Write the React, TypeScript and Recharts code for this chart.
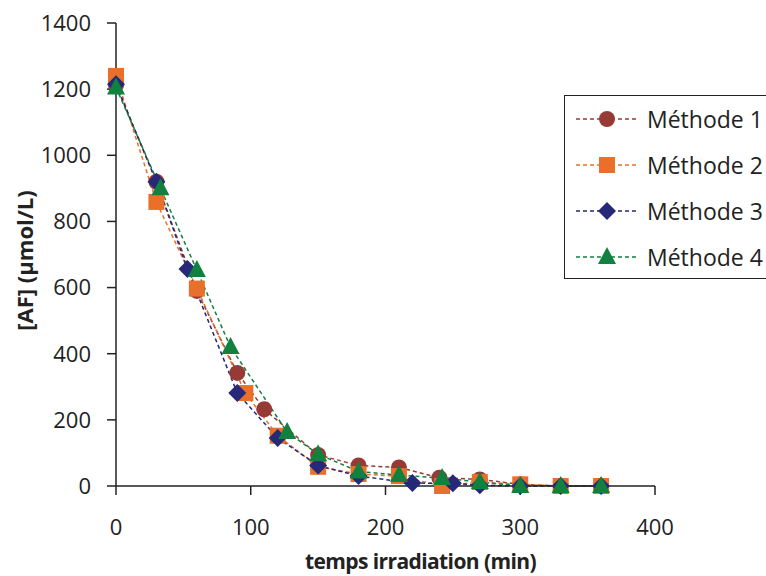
import { LineChart, Line, XAxis, YAxis } from 'recharts'

// Values
const methode1 = [
  { t: 0, af: 1212 }, { t: 30, af: 920 }, { t: 60, af: 590 }, { t: 90, af: 342 },
  { t: 110, af: 232 }, { t: 150, af: 94 }, { t: 180, af: 62 }, { t: 210, af: 56 },
  { t: 240, af: 25 }, { t: 270, af: 20 }, { t: 300, af: 5 }, { t: 330, af: 0 }, { t: 360, af: 0 },
]
const methode2 = [
  { t: 0, af: 1240 }, { t: 30, af: 859 }, { t: 60, af: 597 }, { t: 96, af: 281 },
  { t: 120, af: 152 }, { t: 150, af: 58 }, { t: 180, af: 36 }, { t: 210, af: 30 },
  { t: 242, af: 0 }, { t: 270, af: 12 }, { t: 300, af: 5 }, { t: 330, af: 0 }, { t: 360, af: 0 },
]
const methode3 = [
  { t: 0, af: 1215 }, { t: 30, af: 920 }, { t: 53, af: 656 }, { t: 90, af: 281 },
  { t: 120, af: 145 }, { t: 150, af: 62 }, { t: 180, af: 30 }, { t: 220, af: 9 },
  { t: 250, af: 8 }, { t: 270, af: 2 }, { t: 300, af: 0 }, { t: 330, af: 0 }, { t: 360, af: 0 },
]
const methode4 = [
  { t: 0, af: 1205 }, { t: 33, af: 900 }, { t: 60, af: 653 }, { t: 85, af: 420 },
  { t: 127, af: 163 }, { t: 150, af: 96 }, { t: 180, af: 44 }, { t: 210, af: 33 },
  { t: 242, af: 24 }, { t: 270, af: 12 }, { t: 300, af: 0 }, { t: 330, af: 0 }, { t: 360, af: 0 },
]

const xTicks = [0, 100, 200, 300, 400]
const yTicks = [0, 200, 400, 600, 800, 1000, 1200, 1400]

const series = [
  { name: 'Méthode 1', data: methode1, color: '#973a36', shape: 'circle' },
  { name: 'Méthode 2', data: methode2, color: '#e8702a', shape: 'square' },
  { name: 'Méthode 3', data: methode3, color: '#262878', shape: 'diamond' },
  { name: 'Méthode 4', data: methode4, color: '#12803e', shape: 'triangle' },
]

const font = '"Open Sans", sans-serif'

function Marker({ cx, cy, shape, color }: any) {
  if (cx == null || cy == null) return null
  if (shape === 'circle') return <circle cx={cx} cy={cy} r={8} fill={color} />
  if (shape === 'square') return <rect x={cx - 8} y={cy - 8} width={16} height={16} fill={color} />
  if (shape === 'diamond')
    return <polygon points={`${cx},${cy - 9} ${cx + 9},${cy} ${cx},${cy + 9} ${cx - 9},${cy}`} fill={color} />
  return <polygon points={`${cx},${cy - 10} ${cx + 9},${cy + 7} ${cx - 9},${cy + 7}`} fill={color} />
}

function LegendBox() {
  return (
    <div
      style={{
        position: 'absolute',
        left: 564,
        top: 95,
        border: '1.5px solid #222',
        background: '#fff',
        width: 220,
        height: 184,
        boxSizing: 'border-box',
      }}
    >
      {series.map((s) => (
        <div key={s.name} style={{ display: 'flex', alignItems: 'center', height: 46 }}>
          <svg width={82} height={24}>
            <line x1={11} y1={12} x2={73} y2={12} stroke={s.color} strokeWidth={1.5} strokeDasharray="4 3" />
            <Marker cx={42} cy={12} shape={s.shape} color={s.color} />
          </svg>
          <span style={{ fontFamily: font, fontSize: 23, color: '#222' }}>{s.name}</span>
        </div>
      ))}
    </div>
  )
}

export default function App() {
  return (
    <div style={{ position: 'absolute', left: 0, top: 0, width: 766, height: 576, overflow: 'hidden', background: '#fff' }}>
      <LineChart width={766} height={576} margin={{ top: 23, right: 111, left: 0, bottom: 0 }}>
        <XAxis
          dataKey="t"
          type="number"
          domain={[0, 400]}
          ticks={xTicks}
          allowDuplicatedCategory={false}
          height={90}
          tickSize={9}
          tickMargin={24}
          axisLine={{ stroke: '#222', strokeWidth: 1.5 }}
          tickLine={{ stroke: '#222', strokeWidth: 1.5 }}
          tick={{ fill: '#222', fontSize: 22, fontFamily: font }}
          label={{
            value: 'temps irradiation (min)',
            position: 'insideBottom',
            offset: 7,
            dx: 35,
            style: { fill: '#222', fontSize: 21, fontWeight: 700, fontFamily: font, letterSpacing: -0.6 },
          }}
        />
        <YAxis
          type="number"
          domain={[0, 1400]}
          ticks={yTicks}
          width={116}
          tickSize={9}
          tickMargin={16}
          axisLine={{ stroke: '#222', strokeWidth: 1.5 }}
          tickLine={{ stroke: '#222', strokeWidth: 1.5 }}
          tick={{ fill: '#222', fontSize: 22, fontFamily: font }}
          label={{
            value: '[AF] (µmol/L)',
            angle: -90,
            position: 'insideLeft',
            offset: 25,
            dy: 6,
            style: { textAnchor: 'middle', fill: '#222', fontSize: 22, fontWeight: 700, fontFamily: font, letterSpacing: 0 },
          }}
        />
        {series.map((s) => (
          <Line
            key={s.name}
            data={s.data}
            dataKey="af"
            name={s.name}
            stroke={s.color}
            strokeWidth={1.5}
            strokeDasharray="4 3"
            isAnimationActive={false}
            dot={(p: any) => <Marker key={`${s.name}-${p.index}`} cx={p.cx} cy={p.cy} shape={s.shape} color={s.color} />}
            activeDot={false}
          />
        ))}
      </LineChart>
      <LegendBox />
    </div>
  )
}
